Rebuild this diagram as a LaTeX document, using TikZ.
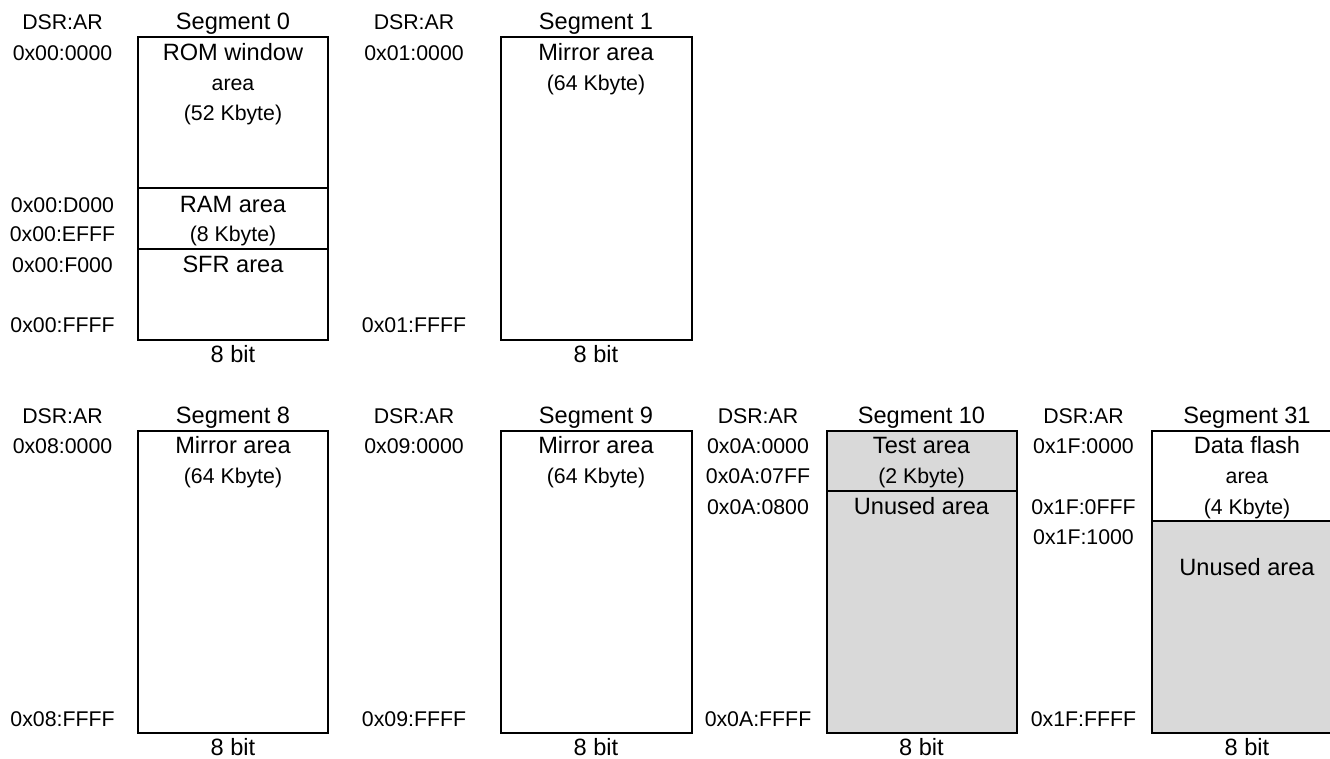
\documentclass[tikz,border=0pt]{standalone}
\usepackage{fontspec}
\setmainfont{Liberation Sans}
\definecolor{unusedgray}{RGB}{217,217,217}

\begin{document}
\begin{tikzpicture}[x=1pt,y=-1pt,line width=2pt,
  big/.style={font=\fontsize{23.6}{28}\selectfont,anchor=base,inner sep=0pt},
  small/.style={font=\fontsize{21.3}{26}\selectfont,anchor=base,inner sep=0pt}]
\clip (0,0) rectangle (1330,758);
% ---------- upper row ----------
% segment 0
\draw (137.7,37) rectangle (328.3,340);
\draw (137.7,188) -- (328.3,188);
\draw (137.7,249) -- (328.3,249);
\node[small] (dsrA) at (62.5,29.5) {DSR:AR};
\node[big] (seg0) at (233,29.5) {Segment 0};
\node[small] (a0s) at (62.5,60) {0x00:0000};
\node[small] (a0d) at (62.5,212.5) {0x00:D000};
\node[small] (a0ef) at (62.5,241.5) {0x00:EFFF};
\node[small] (a0f) at (62.5,272) {0x00:F000};
\node[small] (a0e) at (62.5,332.5) {0x00:FFFF};
\node[big] (rom) at (233,60) {ROM window};
\node[small] (romb) at (233,90) {area};
\node[small] (romc) at (233,120) {(52 Kbyte)};
\node[big] (ram) at (233,212.5) {RAM area};
\node[small] (ramb) at (233,241.5) {(8 Kbyte)};
\node[big] (sfr) at (233,272) {SFR area};
\node[big] (bit0) at (233,362) {8 bit};
% segment 1
\draw (500.7,37) rectangle (691.5,340);
\node[small] (dsrB) at (414,29.5) {DSR:AR};
\node[big] (seg1) at (596,29.5) {Segment 1};
\node[small] (a1s) at (414,60) {0x01:0000};
\node[small] (a1e) at (414,332.5) {0x01:FFFF};
\node[big] (mir1) at (596,60) {Mirror area};
\node[small] (mir1b) at (596,90) {(64 Kbyte)};
\node[big] (bit1) at (596,362) {8 bit};
% ---------- lower row ----------
% segment 8
\draw (137.7,430.5) rectangle (328.3,733);
\node[small] (dsrC) at (62.5,423) {DSR:AR};
\node[big] (seg8) at (233,423) {Segment 8};
\node[small] (a8s) at (62.5,453.5) {0x08:0000};
\node[small] (a8e) at (62.5,726) {0x08:FFFF};
\node[big] (mir8) at (233,453.5) {Mirror area};
\node[small] (mir8b) at (233,483.5) {(64 Kbyte)};
\node[big] (bit8) at (233,755.5) {8 bit};
% segment 9
\draw (500.7,430.5) rectangle (691.5,733);
\node[small] (dsrD) at (414,423) {DSR:AR};
\node[big] (seg9) at (596,423) {Segment 9};
\node[small] (a9s) at (414,453.5) {0x09:0000};
\node[small] (a9e) at (414,726) {0x09:FFFF};
\node[big] (mir9) at (596,453.5) {Mirror area};
\node[small] (mir9b) at (596,483.5) {(64 Kbyte)};
\node[big] (bit9) at (596,755.5) {8 bit};
% segment 10
\draw[fill=unusedgray] (826.5,430.5) rectangle (1016.5,733);
\draw (826.5,490.7) -- (1016.5,490.7);
\node[small] (dsrE) at (758,423) {DSR:AR};
\node[big] (seg10) at (921.5,423) {Segment 10};
\node[small] (aAs) at (758,453.5) {0x0A:0000};
\node[small] (aA7) at (758,483.5) {0x0A:07FF};
\node[small] (aA8) at (758,514) {0x0A:0800};
\node[small] (aAe) at (758,726) {0x0A:FFFF};
\node[big] (test) at (921.5,453.5) {Test area};
\node[small] (testb) at (921.5,483.5) {(2 Kbyte)};
\node[big] (unusedA) at (921.5,514) {Unused area};
\node[big] (bitA) at (921.5,755.5) {8 bit};
% segment 31
\fill[unusedgray] (1151.7,520.7) rectangle (1342.5,733);
\draw (1151.7,430.5) rectangle (1342.5,733);
\draw (1151.7,520.7) -- (1342.5,520.7);
\node[small] (dsrF) at (1083.5,423) {DSR:AR};
\node[big] (seg31) at (1247,423) {Segment 31};
\node[small] (a1Fs) at (1083.5,453.5) {0x1F:0000};
\node[small] (a1Ff) at (1083.5,514) {0x1F:0FFF};
\node[small] (a1Ft) at (1083.5,544) {0x1F:1000};
\node[small] (a1Fe) at (1083.5,726) {0x1F:FFFF};
\node[big] (flash) at (1247,453.5) {Data flash};
\node[small] (flashb) at (1247,483.5) {area};
\node[small] (flashc) at (1247,514) {(4 Kbyte)};
\node[big] (unusedF) at (1247,575) {Unused area};
\node[big] (bitF) at (1247,755.5) {8 bit};
\end{tikzpicture}
\end{document}
